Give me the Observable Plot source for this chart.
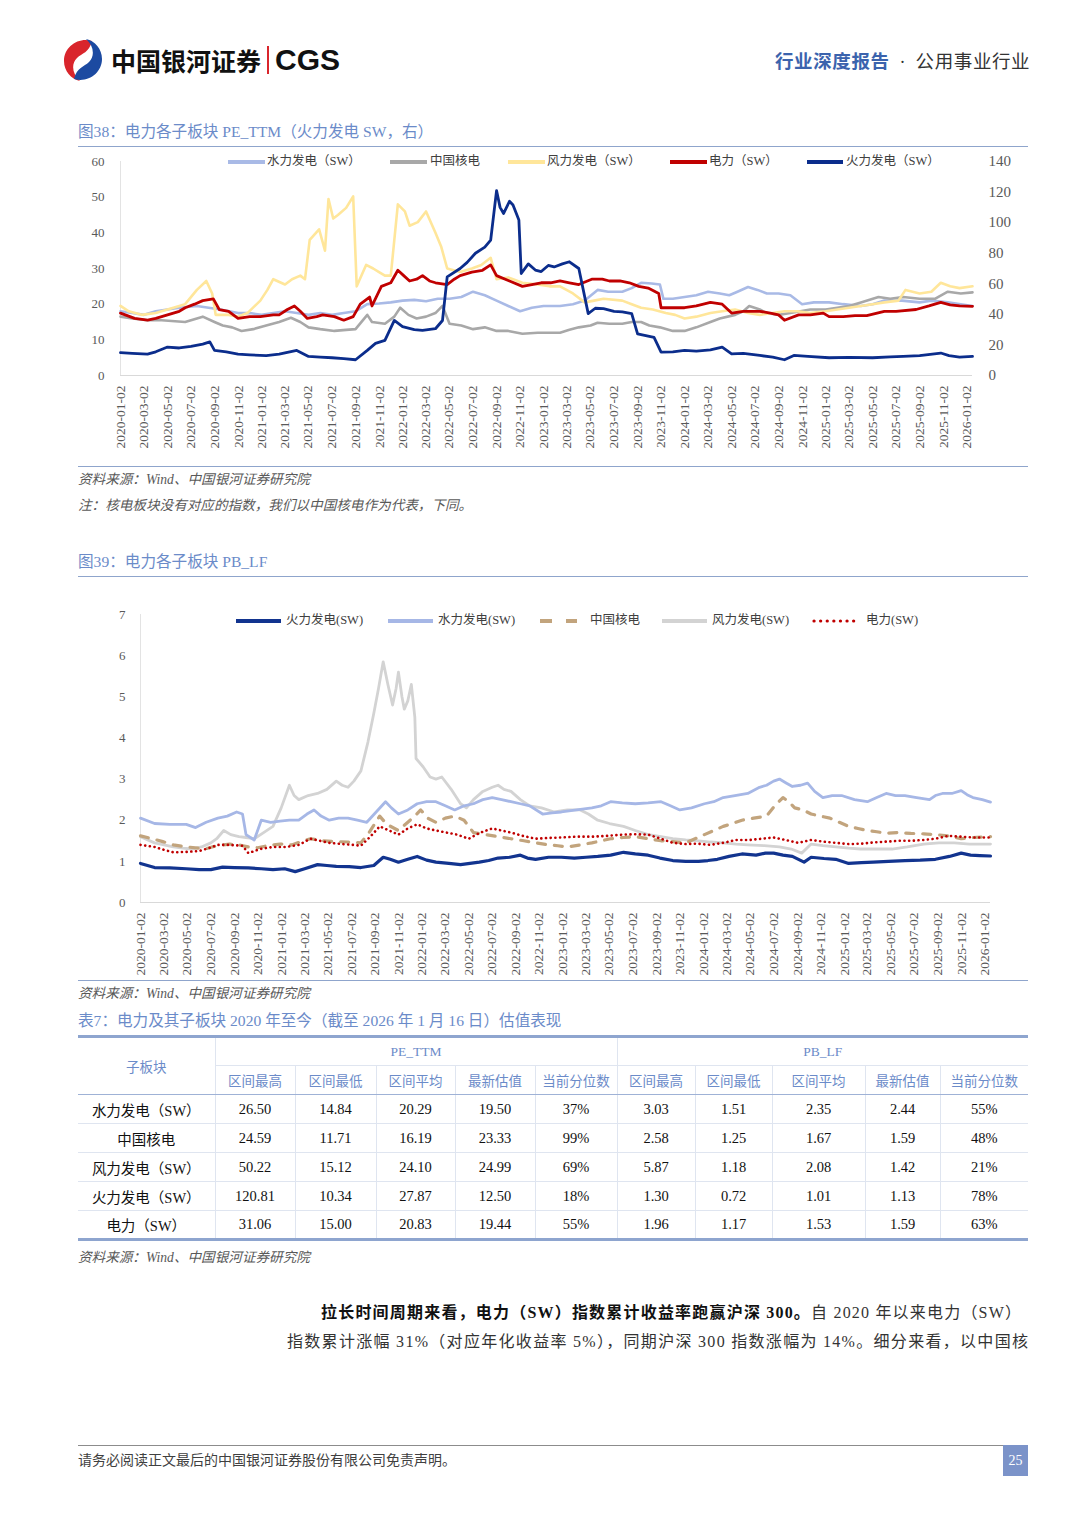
<!DOCTYPE html>
<html><head><meta charset="utf-8">
<script src="https://cdn.jsdelivr.net/npm/d3@7"></script>
<script src="https://cdn.jsdelivr.net/npm/@observablehq/plot@0.6"></script>
<style>
body{margin:0;width:1080px;height:1527px;position:relative;background:#fff;font-family:"Liberation Serif","Noto Sans CJK SC",serif;overflow:hidden}
.abs{position:absolute;white-space:nowrap}
.ttl{color:#6b8bc9;font-size:15.6px;line-height:18px}
.src{color:#595959;font-size:13.6px;line-height:16px;font-style:italic}
.hr{position:absolute;left:78px;width:950px;height:0;border-top:1.5px solid #8fa5cc}
table{border-collapse:collapse;table-layout:fixed;font-size:14.5px}
td{text-align:center;padding:0;border:1px solid #dfe5f0;color:#111}
td.h{color:#6b8bc9;font-size:13.5px}
.leg{position:absolute;font-size:12.5px;color:#404040;line-height:14px;white-space:nowrap}
</style></head>
<body>
<div id="root"></div>
<script>
// ---------------- data ----------------
// month offsets from 2020-01-02 (72.5 = 2026-01-16)
const peHydro = [[0,18],[1,17.5],[2,17],[3,18],[4,18.5],[5,19],[6.5,19.5],[7.5,19],[8.5,18.5],[10,17.5],[11,17.5],[12,17],[13,17.5],[14,18],[15,17.5],[16,17],[17,17.5],[18,17],[19,17.5],[20,18],[21,20],[22,20.2],[23,20.5],[24,21],[25,21.2],[26,20.8],[27,21.5],[28,21.5],[29,22],[30,23.5],[31,22.5],[32,21],[33,19.5],[34,18],[35,19],[36,19.5],[37.4,19.5],[38.5,20],[39.5,21],[40.6,24],[41.5,23.5],[42.7,23.5],[43.5,24.5],[44.3,26],[45.2,25.8],[45.9,25.5],[46.2,21.5],[47,21.5],[48,22],[49,22.5],[50,23.5],[51,23],[51.8,22.5],[52.5,23.5],[53.4,24.8],[54.2,24],[55,23],[56,23],[57,22.5],[58,20],[59,20.5],[60.3,20.5],[61.5,20],[63,19.5],[64,20],[65,21],[66.5,21],[68,20.5],[69,21],[70.4,20.5],[71.5,20],[72.5,19.5]];
const peNuclear = [[0,16.5],[1,16],[2.3,15.5],[3.5,15.5],[5.5,15],[7,16.5],[8,15],[8.7,14],[9.5,13.5],[10.3,12.5],[11.3,13],[12.4,14],[13.5,15],[14.5,16.2],[15.3,15],[16,13.5],[17,13],[18.2,12.5],[19.2,12.8],[20,13],[21,17],[21.4,15],[22.5,14.5],[23.3,16.5],[23.8,19],[24.5,17],[25.2,16],[26,16.5],[26.8,17.5],[27.4,19.5],[28,14.5],[29,14],[30,13],[31,13.5],[32,12.5],[33,12.5],[34.2,11.7],[35.5,12],[36.5,12],[37.4,12],[38.2,12.8],[39,13.5],[40,14],[40.6,14.8],[41.6,14.5],[42.7,14.5],[43.5,15],[44.3,15],[45,14],[45.9,13.5],[47,12.5],[48,12.5],[49,13.5],[50.2,15],[51,16],[52.3,17],[53,18],[53.5,19.5],[54.4,18.5],[55,17.5],[56,17],[57,17.5],[58.7,18.5],[60,18.5],[61,19],[62,19.5],[63,20.5],[64.5,22],[65.5,21.5],[66.6,22],[68,21.5],[69.3,21.5],[70.4,23.5],[71.5,23],[72.5,23.3]];
const peWind = [[0,19.5],[0.7,18],[1.8,17],[3,17.5],[4,18.5],[5,19.5],[5.5,20],[6.5,24],[7.3,26.5],[7.8,23],[8.1,17],[9.2,17],[10,16.5],[10.8,17.5],[11.9,21],[12.5,24],[13,27],[14,25.5],[14.6,27],[15.3,28],[15.7,27],[16.1,38],[16.9,41],[17.4,35],[17.7,49.5],[18.1,44],[18.5,45],[19.2,47],[19.8,50.2],[20.1,25],[20.9,31],[21.5,30],[22,29],[22.5,28],[23,28],[23.6,48],[24.2,46],[24.6,42],[25.3,43],[26,46],[26.8,40],[27.3,36],[27.8,30],[28.9,29],[29.9,30],[30.7,31],[31.5,33],[32,27],[33,27.5],[34.2,26],[35.5,25.5],[36.5,25],[37.4,25],[38.5,23],[39.5,20.5],[40.3,21],[41.1,21.5],[42.7,21],[43.5,20],[44.3,19],[45.3,18.5],[46.4,17.5],[47.2,17],[48,16],[49,16.5],[50.2,17.5],[51.2,18],[52.3,18.5],[53.4,17.5],[54.4,17],[55.5,17.5],[56.5,18],[57.6,18],[58.7,17.5],[60,18],[62,19],[63,19.5],[64,20],[65,20.5],[66.2,21],[66.8,24],[68,23],[69,23.5],[69.8,26],[70.6,25],[71.4,24.5],[72.5,25]];
const pePower = [[0,17.5],[1.2,16],[2.3,15.5],[3,16],[4,17],[5,18],[5.5,19],[6.3,20],[7,21],[7.9,21.5],[8.4,18.5],[9.2,18],[10,16],[11,16.5],[11.9,16.5],[13,17],[13.5,17],[14.2,18.5],[14.8,19.5],[15.3,18],[15.9,16],[16.7,16.5],[17.2,17],[18.2,16.5],[19,15.5],[19.8,16.5],[20.4,20],[21.2,22],[21.4,19.5],[22.2,25],[23,26],[23.6,29.5],[24.1,28],[24.6,26.5],[25.2,27],[25.7,28],[26.3,26.5],[26.8,26],[27.8,25.5],[28.4,27],[28.9,28],[29.9,29],[30.8,29.5],[31.5,31],[32,28],[33.1,26.5],[34.2,25],[35,25.5],[35.8,26],[36.6,26],[37.4,26.5],[38.2,26],[39,25.5],[40.1,27],[41,27],[41.6,26.5],[42.5,26.5],[43.3,26],[44.1,25],[44.9,24.5],[45.8,23],[46,19],[47,19],[48,19],[49,19.5],[50.2,20.5],[51.2,20],[52,17.5],[53,18],[54.4,18],[55.3,17.5],[56,17],[56.5,15.5],[57.7,17],[58.7,17],[59.8,17.5],[60.3,16.5],[61.5,16.5],[62.5,16.8],[63.5,16.8],[65,18],[66,18],[67.7,18.5],[68.8,19.5],[69.8,20.5],[70.6,19.8],[71.4,19.5],[72.5,19.4]];
const peThermal = [[0,15],[1,14.5],[2.3,14],[3,15.5],[4,18.6],[5,18],[6,19],[7,20.5],[7.6,22],[8,16.4],[9,15.5],[10,14],[11,13.5],[12.4,13],[13.5,14],[15,16.4],[16,12.5],[17,12],[18,11.6],[19,11],[20,10.3],[21,16.4],[21.7,21],[22.5,23],[23.3,36],[24,32],[25,30],[25.7,29.5],[26.8,30.6],[27.4,36],[27.8,64.5],[28.9,70],[29.5,74],[30.2,80],[31,84],[31.5,88.6],[32,121],[32.3,110],[32.6,106],[33.1,114],[33.4,111.5],[33.9,101.7],[34.1,66.7],[34.7,73],[35.3,69],[35.8,68],[36.4,72],[36.9,71],[37.6,73],[38.2,74.4],[39,70],[39.8,40.5],[40.4,44],[41.1,43.75],[42,42],[42.7,41.6],[43.5,40.5],[44,27.3],[44.8,26],[45.4,25],[46,15.3],[47,15.5],[48,16.4],[49,16],[50.2,16.8],[51.2,18.6],[52,14.2],[53,14.5],[54.4,13.1],[55.5,12],[56.5,10.3],[57.3,13.1],[58.5,12.5],[60.3,11.6],[62,11.8],[64,11.6],[65.5,12.2],[66.6,12.5],[68,13],[69.8,14.7],[70.5,13],[71.4,12],[72.5,12.5]];

const pbThermal = [[0,0.95],[1.2,0.85],[2.5,0.84],[3.9,0.82],[5,0.8],[6,0.8],[7,0.86],[8,0.85],[9.2,0.84],[10.3,0.82],[11.3,0.8],[12.3,0.82],[13.2,0.75],[14,0.82],[15.1,0.92],[15.9,0.9],[16.7,0.88],[17.8,0.87],[18.8,0.85],[19.9,0.9],[20.7,1.1],[21.3,1.05],[22,0.98],[22.8,1.05],[23.6,1.12],[24.4,1.03],[25.2,0.98],[26.3,0.95],[27.3,0.92],[28.1,0.95],[28.9,0.98],[29.7,1.02],[30.5,1.08],[31.5,1.1],[32.4,1.15],[33,1.08],[33.7,1.05],[34.8,1.1],[35.9,1.1],[37,1.08],[38,1.1],[39,1.12],[40.1,1.15],[41.2,1.22],[42.2,1.18],[43.3,1.15],[44.3,1.08],[45.4,1.02],[46.5,1],[47.6,1],[48.4,1.02],[49.2,1.05],[50.2,1.12],[51.3,1.18],[52.5,1.15],[53.3,1.2],[54,1.2],[54.8,1.15],[55.6,1.12],[56.6,0.98],[57.2,1.1],[58.3,1.07],[59.3,1.05],[60.4,0.95],[61.5,0.97],[62.5,0.98],[63.8,1],[65.2,1.02],[66.5,1.03],[67.8,1.05],[69,1.12],[70,1.2],[70.8,1.15],[71.6,1.14],[72.5,1.13]];
const pbHydro = [[0,2.05],[1.2,1.92],[2.5,1.9],[3.9,1.9],[4.7,1.82],[5.6,1.95],[6.6,2.05],[7.4,2.1],[8.2,2.2],[8.7,2.15],[9,1.65],[9.7,1.52],[10.3,2.0],[11.1,1.95],[11.9,1.98],[12.7,2.0],[13.5,2.0],[14.2,2.15],[14.8,2.25],[15.4,2.1],[16.1,2.0],[16.9,2.05],[17.7,2.05],[18.5,2.0],[19.3,1.95],[20.1,2.2],[20.9,2.45],[21.4,2.3],[22,2.15],[22.8,2.25],[23.6,2.4],[24.4,2.45],[25.2,2.45],[26,2.35],[26.8,2.25],[27.6,2.35],[28.4,2.4],[29.2,2.5],[30,2.55],[30.8,2.5],[31.6,2.45],[32.4,2.4],[33.2,2.35],[34.3,2.15],[35.1,2.18],[35.9,2.2],[37.2,2.25],[38.5,2.3],[39.3,2.35],[40.1,2.45],[41.1,2.42],[42.2,2.4],[43.3,2.42],[44.4,2.45],[45.2,2.35],[46,2.25],[47,2.3],[48.1,2.4],[48.9,2.45],[49.7,2.55],[50.7,2.6],[51.8,2.65],[52.8,2.8],[53.4,2.85],[54,2.95],[54.5,3.0],[55.1,2.9],[55.6,2.82],[56.3,2.85],[56.9,2.9],[57.5,2.7],[58.2,2.55],[59,2.6],[59.8,2.6],[60.9,2.5],[62,2.45],[62.8,2.55],[63.6,2.65],[64.4,2.6],[65.2,2.6],[66.2,2.55],[67.3,2.5],[67.8,2.6],[68.4,2.65],[69.2,2.65],[70,2.72],[70.5,2.62],[71,2.55],[71.8,2.5],[72.5,2.44]];
const pbNuclear = [[0,1.62],[1,1.55],[1.9,1.48],[2.8,1.4],[4,1.35],[5.5,1.3],[6.5,1.38],[7.6,1.42],[8.4,1.4],[9.2,1.35],[10,1.33],[10.8,1.38],[11.9,1.42],[12.9,1.4],[13.7,1.48],[14.5,1.55],[15.6,1.5],[16.7,1.48],[17.7,1.47],[18.8,1.45],[19.5,1.7],[20.4,2.1],[21,1.9],[22,1.75],[22.8,1.95],[23.4,2.1],[23.9,2.25],[24.5,2.05],[25.2,1.95],[26,2.05],[26.8,2.1],[27.6,2.0],[28.4,1.7],[29.4,1.65],[30.5,1.6],[31.6,1.55],[32.7,1.5],[33.7,1.45],[34.8,1.4],[35.6,1.38],[36.4,1.35],[37.5,1.4],[38.5,1.45],[39.3,1.5],[40.1,1.55],[41.2,1.58],[42.2,1.6],[43.3,1.55],[44.4,1.5],[45.4,1.48],[46.5,1.45],[47.3,1.55],[48.1,1.65],[48.9,1.75],[49.7,1.85],[50.5,1.92],[51.3,2.0],[52.3,2.05],[53.4,2.1],[54.1,2.35],[54.8,2.55],[55.3,2.45],[55.8,2.3],[56.5,2.25],[57.2,2.15],[58,2.1],[58.8,2.05],[59.6,1.95],[60.4,1.85],[61.2,1.8],[62,1.75],[62.8,1.72],[63.6,1.68],[64.6,1.7],[65.7,1.68],[66.8,1.67],[67.8,1.65],[68.9,1.62],[70,1.55],[71,1.58],[72.5,1.6]];
const pbWind = [[0,1.6],[1.2,1.45],[2,1.4],[2.8,1.35],[3.6,1.32],[4.4,1.3],[5.2,1.35],[6,1.45],[6.5,1.55],[7.1,1.75],[7.7,1.65],[8.4,1.6],[9,1.58],[9.7,1.55],[10.5,1.7],[11.3,1.85],[12,2.3],[12.7,2.85],[13.1,2.6],[13.5,2.5],[14.3,2.6],[15.1,2.65],[15.9,2.75],[16.7,2.95],[17.2,2.85],[17.7,2.8],[18.2,2.95],[18.8,3.2],[19.4,3.9],[19.9,4.6],[20.3,5.2],[20.7,5.85],[21.1,5.3],[21.5,4.8],[21.8,5.2],[22,5.6],[22.3,5.0],[22.5,4.7],[22.8,4.9],[23.1,5.3],[23.4,4.5],[23.5,3.5],[24.1,3.3],[24.7,3.05],[25.2,3.0],[25.7,3.05],[26.5,2.75],[27.3,2.4],[27.8,2.3],[28.4,2.5],[29.2,2.7],[30,2.8],[30.5,2.85],[31,2.75],[31.6,2.7],[32.4,2.5],[33.2,2.35],[34.2,2.3],[35.3,2.2],[36.4,2.25],[37.5,2.25],[38.2,2.15],[39,2.0],[40,1.92],[41.2,1.85],[42.2,1.75],[43.3,1.65],[44.4,1.6],[45.4,1.55],[46.5,1.52],[47.6,1.5],[48.6,1.47],[49.7,1.45],[50.8,1.42],[51.8,1.4],[53.2,1.38],[54.5,1.35],[55.5,1.3],[56.4,1.2],[57.2,1.42],[58.2,1.38],[59.3,1.35],[60.4,1.32],[61.4,1.3],[62.7,1.3],[64.1,1.3],[65.4,1.35],[66.8,1.42],[68.1,1.45],[69.4,1.45],[70.7,1.42],[72.5,1.42]];
const pbPower = [[0,1.4],[1.2,1.35],[2,1.28],[2.8,1.22],[3.9,1.23],[5,1.25],[5.8,1.32],[6.6,1.4],[7.6,1.4],[8.7,1.38],[9.2,1.2],[10.2,1.3],[11.3,1.35],[12.4,1.35],[13.5,1.4],[14.5,1.55],[15.3,1.5],[16.1,1.45],[17.2,1.42],[18.1,1.4],[18.8,1.38],[19.6,1.6],[20.4,1.85],[21.2,1.75],[22,1.65],[22.8,1.8],[23.6,1.9],[24.4,1.8],[25.2,1.75],[26.1,1.7],[27,1.65],[28,1.55],[29,1.7],[30,1.8],[30.8,1.75],[31.6,1.7],[32.6,1.62],[33.7,1.55],[34.8,1.57],[35.9,1.58],[37.2,1.6],[38.5,1.6],[39.8,1.62],[41.2,1.65],[42.2,1.66],[43.3,1.65],[44.4,1.55],[45.4,1.45],[46.5,1.42],[47.5,1.43],[48.6,1.4],[49.7,1.45],[50.8,1.52],[52,1.52],[53,1.55],[54,1.58],[55,1.52],[56.1,1.45],[57.2,1.52],[58.2,1.48],[59.3,1.45],[60.4,1.42],[61.5,1.43],[62.5,1.46],[63.6,1.48],[64.7,1.5],[65.7,1.5],[66.8,1.52],[67.8,1.55],[68.9,1.62],[70,1.6],[71,1.58],[72.5,1.58]];

const xTickLabels = ["2020-01-02","2020-03-02","2020-05-02","2020-07-02","2020-09-02","2020-11-02","2021-01-02","2021-03-02","2021-05-02","2021-07-02","2021-09-02","2021-11-02","2022-01-02","2022-03-02","2022-05-02","2022-07-02","2022-09-02","2022-11-02","2023-01-02","2023-03-02","2023-05-02","2023-07-02","2023-09-02","2023-11-02","2024-01-02","2024-03-02","2024-05-02","2024-07-02","2024-09-02","2024-11-02","2025-01-02","2025-03-02","2025-05-02","2025-07-02","2025-09-02","2025-11-02","2026-01-02"];
const peLeftTicks = [0,10,20,30,40,50,60];
const peRightTicks = [0,20,40,60,80,100,120,140];
const pbTicks = [0,1,2,3,4,5,6,7];

const tblNames = ["水力发电（SW）","中国核电","风力发电（SW）","火力发电（SW）","电力（SW）"];
const tblSub = ["区间最高","区间最低","区间平均","最新估值","当前分位数"];
const pePeak = ["26.50","24.59","50.22","120.81","31.06"];
const peLow = ["14.84","11.71","15.12","10.34","15.00"];
const peAvg = ["20.29","16.19","24.10","27.87","20.83"];
const peLast = ["19.50","23.33","24.99","12.50","19.44"];
const pePct = ["37%","99%","69%","18%","55%"];
const pbPeak = ["3.03","2.58","5.87","1.30","1.96"];
const pbLow = ["1.51","1.25","1.18","0.72","1.17"];
const pbAvg = ["2.35","1.67","2.08","1.01","1.53"];
const pbLast = ["2.44","1.59","1.42","1.13","1.59"];
const pbPct = ["55%","48%","21%","78%","63%"];

// ---------------- helpers ----------------
const base = Date.UTC(2020,0,2);
const toDate = m => new Date(base + m*30.4375*864e5);
const rows = (arr, name) => arr.map(([m,v]) => ({date: toDate(m), value: v, name}));
const tickDates = xTickLabels.map(s => new Date(s + "T00:00:00Z"));
const FONT = '"Liberation Serif","Noto Sans CJK SC",serif';

function put(html, x, cy, cls, lh, extra) {
  const d = document.createElement("div");
  d.className = "abs " + (cls||"");
  d.style.left = x + "px";
  d.style.top = (cy - lh/2) + "px";
  d.style.lineHeight = lh + "px";
  if (extra) Object.assign(d.style, extra);
  d.innerHTML = html;
  document.body.appendChild(d);
  return d;
}
function hr(y, color, w) {
  const d = document.createElement("div");
  d.className = "hr"; d.style.top = y + "px";
  if (color) d.style.borderTopColor = color;
  if (w) d.style.borderTopWidth = w + "px";
  document.body.appendChild(d);
}

// ---------------- header ----------------
put(`<svg width="44" height="44" viewBox="0 0 44 44">
<path d="M31 3 C17 -1 3 9 3 23 C3 33 10 41 19 43 C11 36 10 26 16 20 C21 15 28 15 31 3Z" fill="#d9252c"/>
<path d="M13 41 C27 45 41 35 41 21 C41 11 34 3 25 1 C33 8 34 18 28 24 C23 29 16 29 13 41Z" fill="#1c4aa1"/>
</svg>`, 61, 60, "", 44);
put(`<span style="font-family:'Noto Sans CJK SC',sans-serif;font-weight:700;font-size:25px;color:#111">中国银河证券</span>`, 111, 60, "", 34);
put(`<div style="width:2px;height:28px;background:#d9252c"></div>`, 267, 60, "", 28);
put(`<span style="font-family:'Liberation Sans',sans-serif;font-weight:700;font-size:30px;color:#111">CGS</span>`, 275, 60, "", 34);
put(`<span style="font-family:'Noto Sans CJK SC';font-weight:700;font-size:18.5px;color:#3b63ad;letter-spacing:0.6px">行业深度报告</span><span style="font-size:18px;color:#333;padding:0 10px">·</span><span style="font-family:'Noto Sans CJK SC';font-size:18.5px;color:#333;letter-spacing:0.6px">公用事业行业</span>`, 775, 60, "", 24);

// ---------------- figure 38 ----------------
put("图38：电力各子板块 PE_TTM（火力发电 SW，右）", 78, 132, "ttl", 18);
hr(146);

const k = 60/140;
const pe = Plot.plot({
  width: 950, height: 305,
  marginLeft: 42, marginRight: 56, marginTop: 11, marginBottom: 80,
  style: {fontFamily: FONT, fontSize: "13px", color: "#595959", background: "transparent", overflow: "visible"},
  x: {type: "utc", domain: [toDate(0), toDate(72.5)]},
  y: {domain: [0, 60]},
  marks: [
    Plot.ruleY([0], {stroke: "#d9d9d9", strokeWidth: 1}),
    Plot.ruleX([toDate(0)], {stroke: "#e3e3e3", strokeWidth: 1}),
    Plot.axisY(peLeftTicks, {anchor: "left", tickSize: 0, tickPadding: 16, label: null, fontSize: 13}),
    Plot.axisY(peRightTicks.map(v => v*k), {anchor: "right", tickSize: 0, tickPadding: 16, label: null, tickFormat: v => String(Math.round(v/k)), fontSize: 15}),
    Plot.axisX(tickDates, {tickSize: 0, tickPadding: 10, tickRotate: -90, label: null, tickFormat: d3.utcFormat("%Y-%m-%d"), fontSize: 13.5}),
    Plot.lineY(rows(peHydro), {x: "date", y: "value", stroke: "#a9bae6", strokeWidth: 2.6}),
    Plot.lineY(rows(peNuclear), {x: "date", y: "value", stroke: "#a8a8a8", strokeWidth: 2.6}),
    Plot.lineY(rows(peWind), {x: "date", y: "value", stroke: "#ffe69a", strokeWidth: 2.6}),
    Plot.lineY(rows(pePower), {x: "date", y: "value", stroke: "#c00000", strokeWidth: 2.8}),
    Plot.lineY(rows(peThermal).map(d => ({...d, value: d.value*k})), {x: "date", y: "value", stroke: "#0b2d8c", strokeWidth: 2.8})
  ]
});
pe.style.position = "absolute"; pe.style.left = "78px"; pe.style.top = "150px";
document.body.appendChild(pe);

const peLegend = [
  {label: "水力发电（SW）", color: "#a9bae6", x0: 228, x1: 265, tx: 267},
  {label: "中国核电", color: "#a8a8a8", x0: 390, x1: 427, tx: 430},
  {label: "风力发电（SW）", color: "#ffe69a", x0: 508, x1: 545, tx: 547},
  {label: "电力（SW）", color: "#c00000", x0: 670, x1: 707, tx: 709},
  {label: "火力发电（SW）", color: "#0b2d8c", x0: 807, x1: 843, tx: 846}
];
for (const it of peLegend) {
  put(`<svg width="${it.x1-it.x0}" height="8"><line x1="0" x2="${it.x1-it.x0}" y1="4" y2="4" stroke="${it.color}" stroke-width="4"/></svg>`, it.x0, 161, "", 8);
  put(it.label, it.tx, 161, "leg", 14);
}
hr(466);
put("资料来源：Wind、中国银河证券研究院", 78, 480, "src", 16);
put("注：核电板块没有对应的指数，我们以中国核电作为代表，下同。", 78, 506, "src", 16);

// ---------------- figure 39 ----------------
put("图39：电力各子板块 PB_LF", 78, 562, "ttl", 18);
hr(576);

const pb = Plot.plot({
  width: 950, height: 380,
  marginLeft: 62, marginRight: 38, marginTop: 14, marginBottom: 78,
  style: {fontFamily: FONT, fontSize: "13px", color: "#595959", background: "transparent", overflow: "visible"},
  x: {type: "utc", domain: [toDate(0), toDate(72.5)]},
  y: {domain: [0, 7]},
  marks: [
    Plot.ruleY([0], {stroke: "#d9d9d9", strokeWidth: 1}),
    Plot.ruleX([toDate(0)], {stroke: "#e3e3e3", strokeWidth: 1}),
    Plot.axisY(pbTicks, {anchor: "left", tickSize: 0, tickPadding: 15, label: null, fontSize: 13}),
    Plot.axisX(tickDates, {tickSize: 0, tickPadding: 10, tickRotate: -90, label: null, tickFormat: d3.utcFormat("%Y-%m-%d"), fontSize: 13.5}),
    Plot.lineY(rows(pbWind), {x: "date", y: "value", stroke: "#d3d3d3", strokeWidth: 2.8}),
    Plot.lineY(rows(pbHydro), {x: "date", y: "value", stroke: "#a6b7e6", strokeWidth: 2.8}),
    Plot.lineY(rows(pbNuclear), {x: "date", y: "value", stroke: "#c2a47d", strokeWidth: 3.2, strokeDasharray: "8,9"}),
    Plot.lineY(rows(pbPower), {x: "date", y: "value", stroke: "#c00000", strokeWidth: 2.6, strokeDasharray: "0.1,4.6", strokeLinecap: "round"}),
    Plot.lineY(rows(pbThermal), {x: "date", y: "value", stroke: "#12348f", strokeWidth: 3.2})
  ]
});
pb.style.position = "absolute"; pb.style.left = "78px"; pb.style.top = "600px";
document.body.appendChild(pb);

const pbLegend = [
  {label: "火力发电(SW)", color: "#12348f", x0: 234, x1: 282, tx: 286, dash: "", w: 4},
  {label: "水力发电(SW)", color: "#a6b7e6", x0: 386, x1: 434, tx: 438, dash: "", w: 4},
  {label: "中国核电", color: "#c2a47d", x0: 538, x1: 578, tx: 590, dash: "12,14", w: 4},
  {label: "风力发电(SW)", color: "#d3d3d3", x0: 660, x1: 708, tx: 712, dash: "", w: 4},
  {label: "电力(SW)", color: "#c00000", x0: 812, x1: 860, tx: 866, dash: "0.1,6.5", w: 3.2}
];
for (const it of pbLegend) {
  put(`<svg width="${it.x1-it.x0}" height="8"><line x1="2" x2="${it.x1-it.x0-1}" y1="4" y2="4" stroke="${it.color}" stroke-width="${it.w}" stroke-dasharray="${it.dash}" stroke-linecap="${it.dash.startsWith('0.1') ? 'round' : 'butt'}"/></svg>`, it.x0, 620, "", 8);
  put(it.label, it.tx, 620, "leg", 14);
}
hr(980);
put("资料来源：Wind、中国银河证券研究院", 78, 994, "src", 16);

// ---------------- table 7 ----------------
put("表7：电力及其子板块 2020 年至今（截至 2026 年 1 月 16 日）估值表现", 78, 1021, "ttl", 18);
const colW = [137,80,81,79,80,82,78,77,93,75,88];
let t = `<table style="width:950px;border-top:3px solid #8ea5cf;border-bottom:3px solid #8ea5cf"><colgroup>${colW.map(w=>`<col style="width:${w}px">`).join("")}</colgroup>`;
t += `<tr style="height:29px"><td class="h" rowspan="2" style="border-left:none;border-bottom:1.5px solid #9fb2d6">子板块</td><td class="h" colspan="5">PE_TTM</td><td class="h" colspan="5" style="border-right:none">PB_LF</td></tr>`;
t += `<tr style="height:29px">${[...tblSub, ...tblSub].map((s,i)=>`<td class="h" style="border-bottom:1.5px solid #9fb2d6;${i==9?'border-right:none':''}">${s}</td>`).join("")}</tr>`;
tblNames.forEach((n,i) => {
  const vals = [pePeak[i],peLow[i],peAvg[i],peLast[i],pePct[i],pbPeak[i],pbLow[i],pbAvg[i],pbLast[i],pbPct[i]];
  t += `<tr style="height:29px"><td style="border-left:none">${n}</td>${vals.map((v,j)=>`<td style="${j==9?'border-right:none':''}">${v}</td>`).join("")}</tr>`;
});
t += `</table>`;
const tb = put(t, 78, 1035 + 104, "", 208);
tb.style.top = "1035px"; tb.style.lineHeight = "normal";
put("资料来源：Wind、中国银河证券研究院", 78, 1258, "src", 16);

// ---------------- paragraph ----------------
put(`<svg width="760" height="60" style="overflow:visible">
<text x="34" y="20" font-size="16" fill="#333" textLength="700" lengthAdjust="spacing" font-family='"Liberation Serif","Noto Sans CJK SC",serif'><tspan font-weight="700" fill="#111">拉长时间周期来看，电力（SW）指数累计收益率跑赢沪深 300。</tspan>自 2020 年以来电力（SW）</text>
<text x="0" y="49" font-size="16" fill="#333" textLength="741" lengthAdjust="spacing" font-family='"Liberation Serif","Noto Sans CJK SC",serif'>指数累计涨幅 31%（对应年化收益率 5%），同期沪深 300 指数涨幅为 14%。细分来看，以中国核</text>
</svg>`, 287, 1328, "", 60);

// ---------------- footer ----------------
hr(1445, "#8c8c8c", 1.5);
put("请务必阅读正文最后的中国银河证券股份有限公司免责声明。", 78, 1461, "", 16, {fontSize: "14px", color: "#404040"});
put(`<div style="width:25px;height:31px;background:#7b93c9;color:#fff;font-size:14px;text-align:center;line-height:31px">25</div>`, 1003, 1460, "", 31);
</script>
</body></html>
